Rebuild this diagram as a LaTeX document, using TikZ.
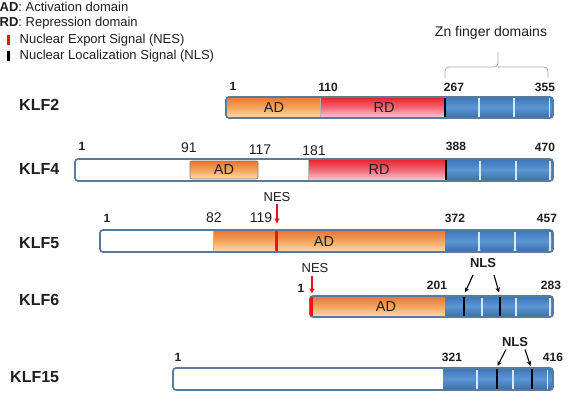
\documentclass[tikz,border=0pt]{standalone}
\usepackage{fontspec}
\setmainfont{Liberation Sans}
\usetikzlibrary{arrows.meta}
\definecolor{orT}{HTML}{EA7530}
\definecolor{orM}{HTML}{F4A55E}
\definecolor{orB}{HTML}{FCDDB8}
\definecolor{rdT}{HTML}{E8202C}
\definecolor{rdM}{HTML}{F26A78}
\definecolor{rdB}{HTML}{FAD3DA}
\definecolor{blT}{HTML}{3C76B8}
\definecolor{blM}{HTML}{5B95D3}
\definecolor{blB}{HTML}{3B6DAA}
\definecolor{edgec}{HTML}{5A7A9A}
\definecolor{sepc}{HTML}{D6E8F8}
\definecolor{txt}{HTML}{1E1E1E}
\definecolor{nesred}{HTML}{E8141C}
\definecolor{adedge}{HTML}{8A7A6A}
\tikzset{
  klf/.style={font=\fontsize{16}{18}\selectfont\bfseries, anchor=west, inner sep=0pt, text=txt},
  bnum/.style={font=\fontsize{12}{14}\selectfont\bfseries, inner sep=0pt, text=txt},
  nnum/.style={font=\fontsize{14}{16}\selectfont, inner sep=0pt, text=txt},
  dom/.style={font=\fontsize{14.5}{16}\selectfont, inner sep=0pt, text=txt},
  nes/.style={font=\fontsize{13}{15}\selectfont, inner sep=0pt, text=txt},
  nls/.style={font=\fontsize{13}{15}\selectfont\bfseries, inner sep=0pt, text=txt},
  leg/.style={font=\fontsize{13}{15}\selectfont, anchor=west, inner sep=0pt, text=txt},
  orfill/.style={top color=orT, bottom color=orB, middle color=orM},
  rdfill/.style={top color=rdT, bottom color=rdB, middle color=rdM},
  blfill/.style={top color=blT, bottom color=blB, middle color=blM},
  barline/.style={draw=edgec, line width=1.7pt, rounded corners=3pt},
  sepline/.style={draw=sepc, line width=1.2pt},
  nlsline/.style={draw=black, line width=2.4pt},
  nesline/.style={draw=nesred, line width=2.6pt},
  nesarrow/.style={draw=nesred, line width=1.4pt, -{Triangle[length=5pt,width=5pt]}},
  nlsarrow/.style={draw=black, line width=1.1pt, -{Stealth[length=5pt,width=4.5pt]}},
  bracec/.style={draw=gray!70, line width=0.8pt, rounded corners=4pt}
}
\begin{document}
\begin{tikzpicture}[x=1pt,y=-1pt]
\useasboundingbox (0,0) rectangle (568,404);
\fill[white] (0,0) rectangle (568,404);

% ---------- legend ----------
\node[leg] (lg1) at (-0.5,7) {\textbf{AD}: Activation domain};
\node[leg] (lg2) at (-0.5,23) {\textbf{RD}: Repression domain};
\fill[nesred] (6.5,35) rectangle (9.5,45.5);
\node[leg] (lg3) at (19.5,40) {Nuclear Export Signal (NES)};
\fill[black] (6.5,51) rectangle (9.5,61.5);
\node[leg] (lg4) at (19.5,56) {Nuclear Localization Signal (NLS)};

% ---------- Zn finger brace ----------
\node[font=\fontsize{14}{16}\selectfont, inner sep=0pt, text=txt] (zn) at (491,33) {Zn finger domains};
\draw[bracec] (445,78) -- (445,67) -- (498,67) -- (498,52);
\draw[bracec] (498,67) -- (548,67) -- (548,78);

% ---------- KLF2 ----------
\begin{scope}
\clip[rounded corners=3pt] (226,97) rectangle (553,118);
\fill[orfill] (226,97) rectangle (320,118);
\fill[rdfill] (320,97) rectangle (445,118);
\fill[blfill] (445,97) rectangle (553,118);
\end{scope}
\draw[draw=gray!60, line width=0.6pt] (320,97) -- (320,118);
\foreach \s in {479,514,549.5} \draw[sepline] (\s,98.5) -- (\s,116.5);
\draw[nlsline] (445,97) -- (445,118);
\draw[barline] (226,97) rectangle (553,118);
\node[klf] (k2) at (19,105) {KLF2};
\node[bnum] (k2n1) at (233,86) {1};
\node[bnum] (k2n2) at (328,87) {110};
\node[bnum] (k2n3) at (454,87) {267};
\node[bnum] (k2n4) at (545,87) {355};
\node[dom] (k2ad) at (274,107.5) {AD};
\node[dom] (k2rd) at (384,107.5) {RD};

% ---------- KLF4 ----------
\begin{scope}
\clip[rounded corners=3pt] (75,159) rectangle (553,181);
\fill[white] (75,159) rectangle (553,181);
\fill[rdfill] (308,159) rectangle (446,181);
\fill[blfill] (446,159) rectangle (553,181);
\end{scope}
\draw[orfill, draw=adedge, line width=0.8pt, rounded corners=2pt] (190,161) rectangle (258,179);
\draw[draw=gray!50, line width=0.6pt] (308,159) -- (308,181);
\foreach \s in {480,516,550} \draw[sepline] (\s,160.5) -- (\s,179.5);
\draw[nlsline] (446,159) -- (446,181);
\draw[barline] (75,159) rectangle (553,181);
\node[klf] (k4) at (19,169) {KLF4};
\node[bnum] (k4n1) at (82,146) {1};
\node[nnum] (k4n2) at (189,148) {91};
\node[nnum] (k4n3) at (260,150) {117};
\node[nnum] (k4n4) at (314,151) {181};
\node[bnum] (k4n5) at (456,146) {388};
\node[bnum] (k4n6) at (545,147) {470};
\node[dom] (k4ad) at (224,170) {AD};
\node[dom] (k4rd) at (379,170) {RD};

% ---------- KLF5 ----------
\begin{scope}
\clip[rounded corners=3pt] (100,230) rectangle (553,252);
\fill[white] (100,230) rectangle (553,252);
\fill[orfill] (213,230) rectangle (445,252);
\fill[blfill] (445,230) rectangle (553,252);
\end{scope}
\draw[draw=gray!60, line width=0.6pt] (213,230) -- (213,252);
\foreach \s in {479,515,550} {
  \draw[sepline] (\s,231.5) -- (\s,250.5);
  \fill[sepc] (\s-1.6,250.5) -- (\s+1.6,250.5) -- (\s,247) -- cycle;
}
\draw[nesline] (276.5,230) -- (276.5,252);
\draw[barline] (100,230) rectangle (553,252);
\node[klf] (k5) at (19,243) {KLF5};
\node[bnum] (k5n1) at (107,218) {1};
\node[nnum] (k5n2) at (214,218) {82};
\node[nnum] (k5n3) at (261,218) {119};
\node[bnum] (k5n4) at (455,218) {372};
\node[bnum] (k5n5) at (547,218) {457};
\node[dom] (k5ad) at (324,242) {AD};
\node[nes] (k5nes) at (277,197) {NES};
\coordinate (k5nest) at (277,223.5);
\draw[nesarrow] (k5nes.south) ++(0,2) -- (k5nest);

% ---------- KLF6 ----------
\begin{scope}
\clip[rounded corners=3pt] (310,296) rectangle (553,317);
\fill[orfill] (310,296) rectangle (445,317);
\fill[blfill] (445,296) rectangle (553,317);
\end{scope}
\foreach \s in {482,516,550} \draw[sepline] (\s,297.5) -- (\s,315.5);
\draw[nlsline] (464,296) -- (464,317);
\draw[nlsline] (500,296) -- (500,317);
\draw[barline] (310,296) rectangle (553,317);
\draw[nesline] (311.5,296.8) -- (311.5,316.2);
\node[klf] (k6) at (19,300) {KLF6};
\node[bnum] (k6n1) at (301,288) {1};
\node[bnum] (k6n2) at (437,285) {201};
\node[bnum] (k6n3) at (551,285) {283};
\node[dom] (k6ad) at (386,307) {AD};
\node[nes] (k6nes) at (315,268) {NES};
\coordinate (k6nest) at (312,293.5);
\draw[nesarrow] (312,276) -- (k6nest);
\node[nls] (k6nls) at (483,263) {NLS};
\coordinate (k6a1s) at (473,275);
\coordinate (k6a1e) at (465,292.5);
\coordinate (k6a2s) at (494,275);
\coordinate (k6a2e) at (499,292.5);
\draw[nlsarrow] (k6a1s) -- (k6a1e);
\draw[nlsarrow] (k6a2s) -- (k6a2e);

% ---------- KLF15 ----------
\begin{scope}
\clip[rounded corners=3pt] (173,368) rectangle (553,390);
\fill[white] (173,368) rectangle (553,390);
\fill[blfill] (443,368) rectangle (553,390);
\end{scope}
\foreach \s in {477,513,547.5} \draw[sepline] (\s,369.5) -- (\s,388.5);
\draw[nlsline] (497,368) -- (497,390);
\draw[nlsline] (532,368) -- (532,390);
\draw[barline] (173,368) rectangle (553,390);
\node[klf] (k15) at (10,377) {KLF15};
\node[bnum] (k15n1) at (178,357) {1};
\node[bnum] (k15n2) at (452,357) {321};
\node[bnum] (k15n3) at (553,357) {416};
\node[nls] (k15nls) at (515,342) {NLS};
\coordinate (k15a1s) at (506,349.5);
\coordinate (k15a1e) at (497.5,366);
\coordinate (k15a2s) at (525,349.5);
\coordinate (k15a2e) at (530.5,366);
\draw[nlsarrow] (k15a1s) -- (k15a1e);
\draw[nlsarrow] (k15a2s) -- (k15a2e);
\end{tikzpicture}
\end{document}
